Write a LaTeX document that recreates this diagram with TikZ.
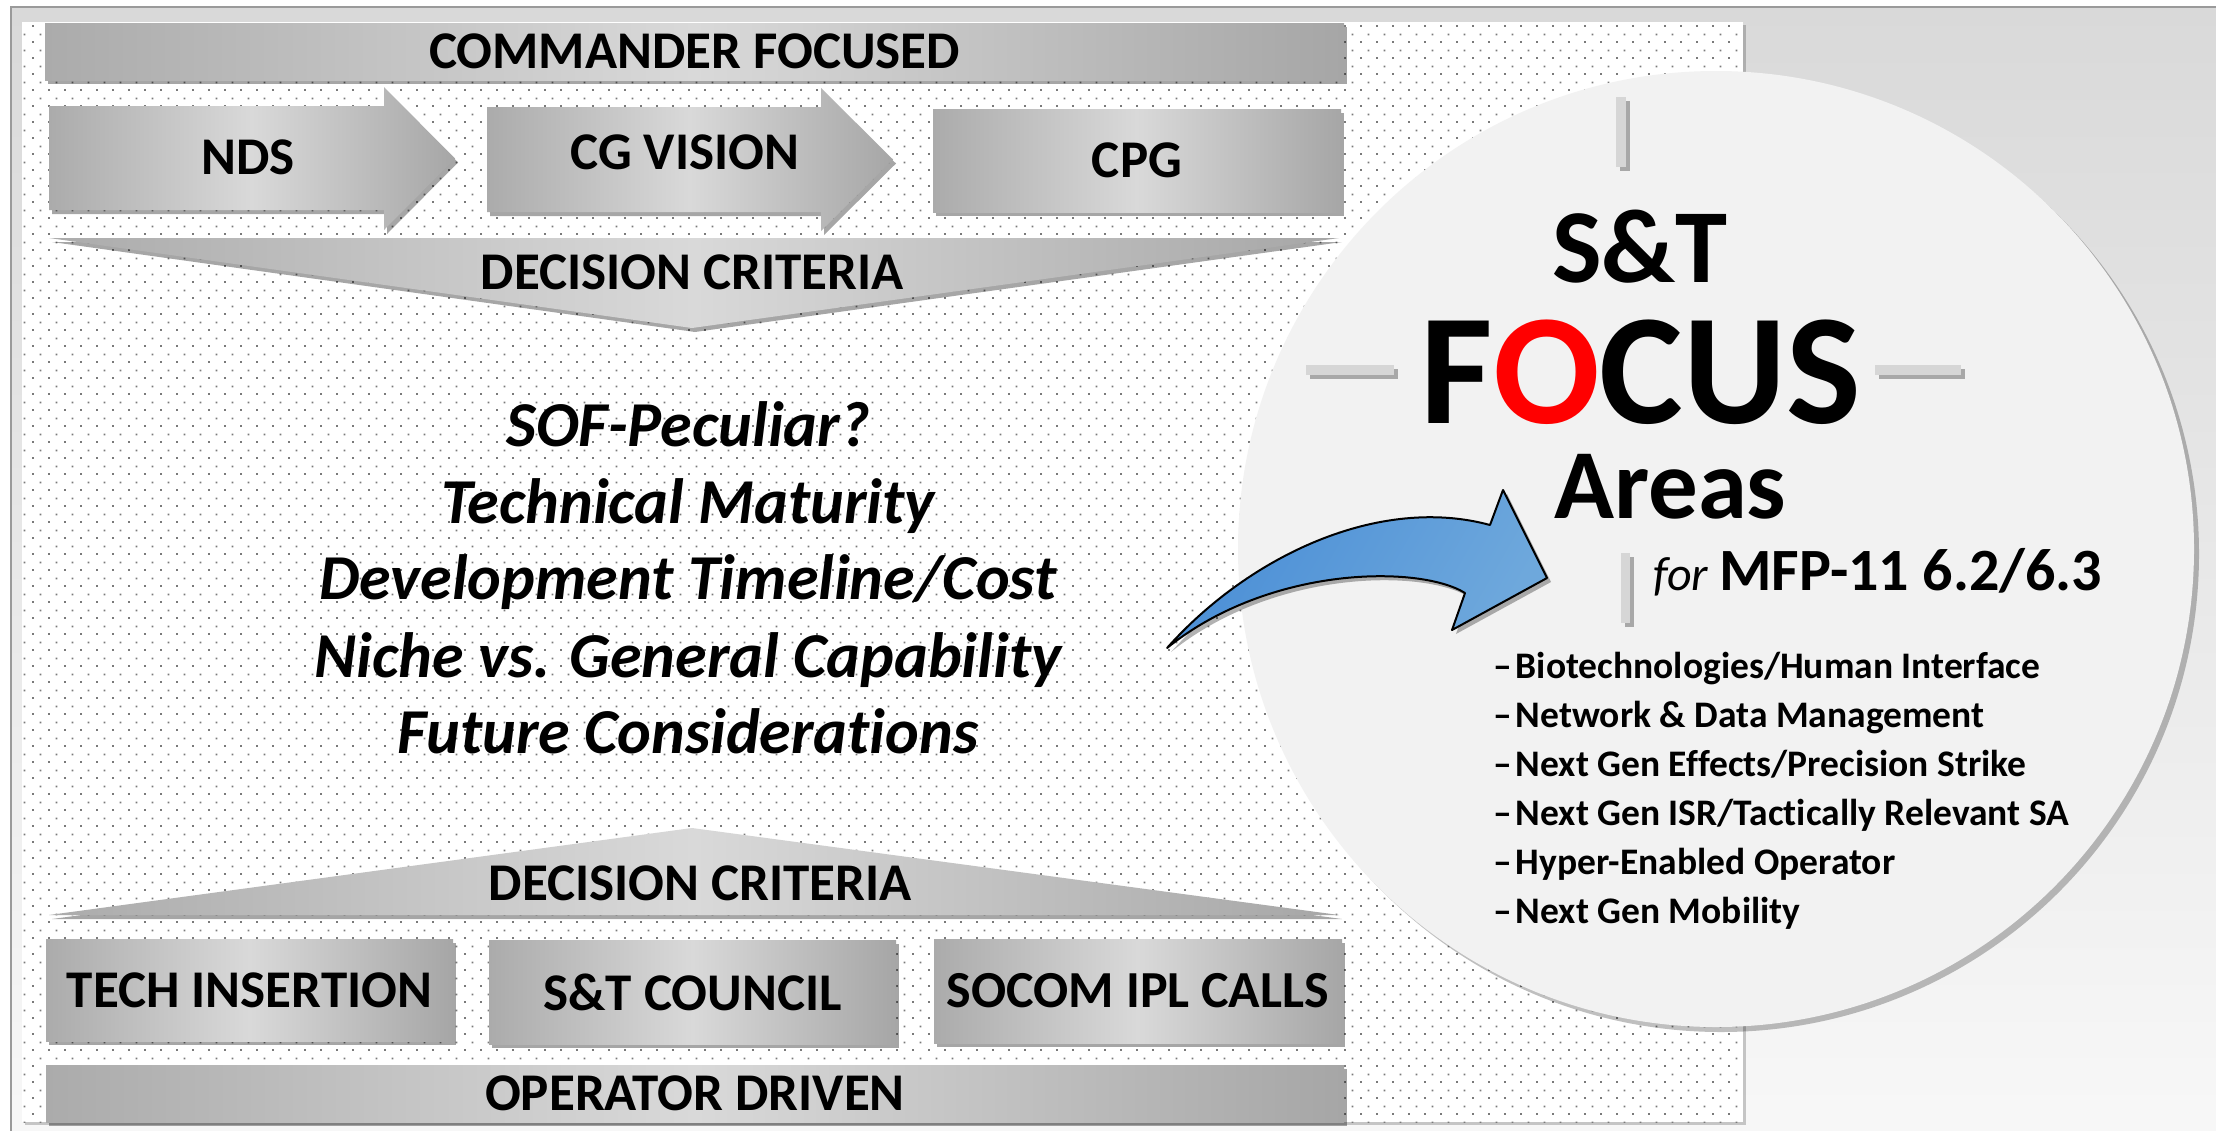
\documentclass[tikz,border=0pt]{standalone}
\usepackage{fontspec}
\setmainfont{Carlito}[Ligatures=NoCommon]
\usetikzlibrary{shadows,patterns}
\definecolor{bgtop}{HTML}{D9D9D9}
\definecolor{bgbot}{HTML}{F8F8F8}
\definecolor{framegray}{HTML}{9A9A9A}
\definecolor{dotgray}{HTML}{7A7A7A}
\definecolor{gl}{HTML}{ABABAB}
\definecolor{gm}{HTML}{D9D9D9}
\definecolor{gr}{HTML}{A6A6A6}
\definecolor{circfill}{HTML}{F2F2F2}
\definecolor{tickgray}{HTML}{D6D6D6}
\definecolor{blueL}{HTML}{4A8ED6}
\definecolor{blueR}{HTML}{6EA8DC}
\pgfdeclarepatternformonly{stagdots}{\pgfpointorigin}{\pgfqpoint{16pt}{16pt}}{\pgfqpoint{16pt}{16pt}}{%
  \pgfpathrectangle{\pgfqpoint{0pt}{0pt}}{\pgfqpoint{2pt}{2pt}}%
  \pgfpathrectangle{\pgfqpoint{8pt}{8pt}}{\pgfqpoint{2pt}{2pt}}%
  \pgfusepath{fill}}
\tikzset{
  grayfill/.style={left color=gl, right color=gr, middle color=gm},
  sh/.style={drop shadow={shadow xshift=3pt, shadow yshift=-4pt, opacity=0.35, fill=black}},
  boxlbl/.style={font=\bfseries\fontsize{53}{58}\selectfont, inner sep=0pt},
  graybox/.style={rectangle, grayfill, sh, inner sep=0pt, boxlbl},
  crit/.style={font=\bfseries\itshape\fontsize{64}{70}\selectfont, inner sep=0pt, anchor=base},
  item/.style={font=\bfseries\fontsize{37.5}{40}\selectfont, inner sep=0pt, anchor=base west},
  tick/.style={fill=tickgray, drop shadow={shadow xshift=4pt, shadow yshift=-4pt, opacity=0.3, fill=black}},
}
\begin{document}
\begin{tikzpicture}[x=1pt,y=-1pt]
\useasboundingbox (0,0) rectangle (2216,1130);
\fill[white] (0,0) rectangle (2216,1130);
% outer frame
\path[top color=bgtop, bottom color=bgbot, draw=framegray, line width=2pt] (11,7) rectangle (2240,1150);
% dotted panel
\fill[white, drop shadow={shadow xshift=3pt, shadow yshift=-3pt, opacity=0.2, fill=black}] (22,22) rectangle (1743,1122);
\fill[pattern=stagdots, pattern color=dotgray] (22,22) rectangle (1743,1122);

% top bar
\node[graybox, minimum width=1299pt, minimum height=57pt] (cmd) at (694.5,51.5) {COMMANDER FOCUSED};
% arrows
\path[grayfill, sh] (49,106) -- (384,106) -- (384,87) -- (455,158.5) -- (384,230) -- (384,210) -- (49,210) -- cycle;
\node[boxlbl, anchor=base] (nds) at (248,174) {NDS};
\path[grayfill, sh] (487,107) -- (821,107) -- (821,88) -- (893,159.5) -- (821,231) -- (821,212) -- (487,212) -- cycle;
\node[boxlbl, anchor=base] (cgv) at (685,169) {CG VISION};
\node[graybox, minimum width=408pt, minimum height=103pt] (cpg) at (1137,160.5) {CPG};
% decision criteria top
\path[grayfill, sh] (49,238) -- (1339,238) -- (692,328) -- cycle;
\node[boxlbl, anchor=base] (dc1) at (692,289) {DECISION CRITERIA};

% criteria
\node[crit] (q1) at (688,446) {SOF-Peculiar?};
\node[crit] (q2) at (688,523) {Technical Maturity};
\node[crit] (q3) at (688,599) {Development Timeline/Cost};
\node[crit] (q4) at (688,677) {Niche vs. General Capability};
\node[crit] (q5) at (688,753) {Future Considerations};

% decision criteria bottom
\path[grayfill, sh] (49,915) -- (1339,915) -- (692,828) -- cycle;
\node[boxlbl, anchor=base] (dc2) at (700,900) {DECISION CRITERIA};
% bottom boxes
\node[graybox, minimum width=407pt, minimum height=102pt] (tech) at (249.5,990) {TECH INSERTION};
\node[graybox, minimum width=407pt, minimum height=104pt] (council) at (692.5,992) {S\&T COUNCIL};
\node[graybox, minimum width=408pt, minimum height=104pt, font=\bfseries\fontsize{52}{58}\selectfont] (socom) at (1138,991) {SOCOM IPL CALLS};
\node[graybox, minimum width=1298pt, minimum height=57pt] (oper) at (695,1093.5) {OPERATOR DRIVEN};

% focus circle
\path[fill=circfill, drop shadow={shadow xshift=5pt, shadow yshift=-5pt, opacity=0.25, fill=black}]
  (1716,549) circle[radius=478pt];
% crosshair ticks
\path[tick] (1616,97) rectangle (1626,167);
\path[tick] (1621,553) rectangle (1630,623);
\path[tick] (1306,365) rectangle (1394,375);
\path[tick] (1875,365) rectangle (1961,375);

\node[inner sep=0pt, anchor=base, font=\bfseries\fontsize{105}{108}\selectfont] (st) at (1640,282) {S\&T};
\node[inner sep=0pt, anchor=base, font=\bfseries\fontsize{158}{160}\selectfont] (fw) at (1641,423) {F\textcolor{red}{O}CUS};
\node[inner sep=0pt, anchor=base west, font=\bfseries\fontsize{99}{100}\selectfont] (areas) at (1554,518) {Areas};
\node[inner sep=0pt, anchor=base west] (mfp) at (1653,590) {{\itshape\fontsize{48}{50}\selectfont for}\hspace{11pt}{\bfseries\fontsize{60}{62}\selectfont MFP-11 6.2/6.3}};

\node[item] (i1) at (1493,678) {–\hspace{4pt}Biotechnologies/Human Interface};
\node[item] (i2) at (1493,727) {–\hspace{4pt}Network \& Data Management};
\node[item] (i3) at (1493,776) {–\hspace{4pt}Next Gen Effects/Precision Strike};
\node[item] (i4) at (1493,825) {–\hspace{4pt}Next Gen ISR/Tactically Relevant SA};
\node[item] (i5) at (1493,874) {–\hspace{4pt}Hyper-Enabled Operator};
\node[item] (i6) at (1493,923) {–\hspace{4pt}Next Gen Mobility};

% blue curved arrow
\path[draw=black, line width=2pt, line join=round, left color=blueL, right color=blueR, shading angle=60,
      drop shadow={shadow xshift=4pt, shadow yshift=-4pt, opacity=0.3, fill=black}]
  (1167,648) .. controls (1250,555) and (1380,495) .. (1490,525)
  -- (1503,490) -- (1547,578) -- (1452,630) -- (1465,593)
  .. controls (1420,565) and (1270,565) .. (1167,648) -- cycle;
\end{tikzpicture}
\end{document}
